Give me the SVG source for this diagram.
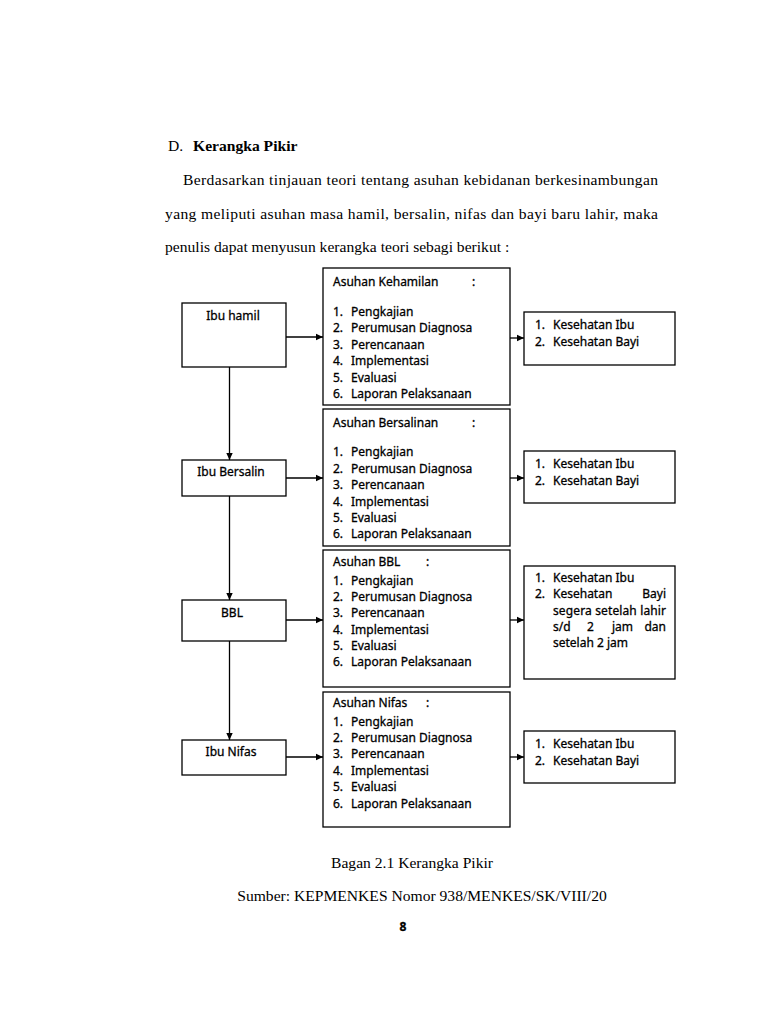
<svg xmlns="http://www.w3.org/2000/svg" width="768" height="1024" viewBox="0 0 768 1024">
<style>
.box{fill:#fff;stroke:#000;stroke-width:1.3}
.t{font-family:"Noto Sans","Open Sans",sans-serif;font-size:12px;fill:#000;stroke:#000;stroke-width:0.3}
.serif{font-family:"Liberation Serif","Times New Roman",serif;font-size:15.6px;fill:#000}
.con{stroke:#000;stroke-width:1.3;fill:none;marker-end:url(#ah)}
</style>
<defs>
<marker id="ah" markerWidth="8" markerHeight="8" refX="7" refY="4" orient="auto" markerUnits="userSpaceOnUse">
<path d="M0,0.8 L7,4 L0,7.2 Z" fill="#000"/>
</marker>
</defs>
<rect width="768" height="1024" fill="#fff"/>

<g id="header">
<text class="serif" x="168" y="151">D.</text>
<text class="serif" x="193" y="151" font-weight="bold">Kerangka Pikir</text>
<text class="serif" x="183" y="185" textLength="475" lengthAdjust="spacing">Berdasarkan tinjauan teori tentang asuhan kebidanan berkesinambungan</text>
<text class="serif" x="165" y="219" textLength="493" lengthAdjust="spacing">yang meliputi asuhan masa hamil, bersalin, nifas dan bayi baru lahir, maka</text>
<text class="serif" x="165" y="252">penulis dapat menyusun kerangka teori sebagi berikut :</text>
</g>

<g id="connectors">
<line class="con" x1="229.5" y1="367" x2="229.5" y2="460"/>
<line class="con" x1="229.5" y1="496" x2="229.5" y2="600"/>
<line class="con" x1="229.5" y1="641" x2="229.5" y2="740"/>
<line class="con" x1="286" y1="337" x2="323" y2="337"/>
<line class="con" x1="286" y1="478" x2="323" y2="478"/>
<line class="con" x1="286" y1="620" x2="323" y2="620"/>
<line class="con" x1="286" y1="757" x2="323" y2="757"/>
<line class="con" x1="510" y1="338" x2="524" y2="338"/>
<line class="con" x1="510" y1="478" x2="524" y2="478"/>
<line class="con" x1="510" y1="620" x2="524" y2="620"/>
<line class="con" x1="510" y1="757" x2="524" y2="757"/>
</g>

<g id="ibu-hamil">
<rect class="box" x="182" y="303" width="104" height="64"/>
<text class="t" x="233" y="320" text-anchor="middle">Ibu hamil</text>
</g>
<g id="ibu-bersalin">
<rect class="box" x="182" y="460" width="104" height="36"/>
<text class="t" x="231" y="476" text-anchor="middle">Ibu Bersalin</text>
</g>
<g id="bbl">
<rect class="box" x="182" y="600" width="104" height="41"/>
<text class="t" x="232" y="617" text-anchor="middle">BBL</text>
</g>
<g id="ibu-nifas">
<rect class="box" x="182" y="740" width="104" height="35"/>
<text class="t" x="231" y="756" text-anchor="middle">Ibu Nifas</text>
</g>

<g id="asuhan-kehamilan">
<rect class="box" x="323" y="268" width="187" height="137"/>
<text class="t" x="333" y="286">Asuhan Kehamilan</text>
<text class="t" x="472" y="286">:</text>
<text class="t" x="333" y="316">1.</text><text class="t" x="351" y="316">Pengkajian</text>
<text class="t" x="333" y="332">2.</text><text class="t" x="351" y="332">Perumusan Diagnosa</text>
<text class="t" x="333" y="349">3.</text><text class="t" x="351" y="349">Perencanaan</text>
<text class="t" x="333" y="365">4.</text><text class="t" x="351" y="365">Implementasi</text>
<text class="t" x="333" y="382">5.</text><text class="t" x="351" y="382">Evaluasi</text>
<text class="t" x="333" y="398">6.</text><text class="t" x="351" y="398">Laporan Pelaksanaan</text>
</g>

<g id="asuhan-bersalinan">
<rect class="box" x="323" y="409" width="187" height="137"/>
<text class="t" x="333" y="427">Asuhan Bersalinan</text>
<text class="t" x="472" y="427">:</text>
<text class="t" x="333" y="456">1.</text><text class="t" x="351" y="456">Pengkajian</text>
<text class="t" x="333" y="473">2.</text><text class="t" x="351" y="473">Perumusan Diagnosa</text>
<text class="t" x="333" y="489">3.</text><text class="t" x="351" y="489">Perencanaan</text>
<text class="t" x="333" y="506">4.</text><text class="t" x="351" y="506">Implementasi</text>
<text class="t" x="333" y="522">5.</text><text class="t" x="351" y="522">Evaluasi</text>
<text class="t" x="333" y="538">6.</text><text class="t" x="351" y="538">Laporan Pelaksanaan</text>
</g>

<g id="asuhan-bbl">
<rect class="box" x="323" y="550" width="187" height="137"/>
<text class="t" x="333" y="566">Asuhan BBL</text>
<text class="t" x="426" y="566">:</text>
<text class="t" x="333" y="585">1.</text><text class="t" x="351" y="585">Pengkajian</text>
<text class="t" x="333" y="601">2.</text><text class="t" x="351" y="601">Perumusan Diagnosa</text>
<text class="t" x="333" y="617">3.</text><text class="t" x="351" y="617">Perencanaan</text>
<text class="t" x="333" y="634">4.</text><text class="t" x="351" y="634">Implementasi</text>
<text class="t" x="333" y="650">5.</text><text class="t" x="351" y="650">Evaluasi</text>
<text class="t" x="333" y="666">6.</text><text class="t" x="351" y="666">Laporan Pelaksanaan</text>
</g>

<g id="asuhan-nifas">
<rect class="box" x="323" y="692" width="187" height="135"/>
<text class="t" x="333" y="707">Asuhan Nifas</text>
<text class="t" x="426" y="707">:</text>
<text class="t" x="333" y="726">1.</text><text class="t" x="351" y="726">Pengkajian</text>
<text class="t" x="333" y="742">2.</text><text class="t" x="351" y="742">Perumusan Diagnosa</text>
<text class="t" x="333" y="758">3.</text><text class="t" x="351" y="758">Perencanaan</text>
<text class="t" x="333" y="775">4.</text><text class="t" x="351" y="775">Implementasi</text>
<text class="t" x="333" y="791">5.</text><text class="t" x="351" y="791">Evaluasi</text>
<text class="t" x="333" y="808">6.</text><text class="t" x="351" y="808">Laporan Pelaksanaan</text>
</g>

<g id="hasil-1">
<rect class="box" x="524" y="312" width="151" height="53"/>
<text class="t" x="535" y="329">1.</text><text class="t" x="553" y="329">Kesehatan Ibu</text>
<text class="t" x="535" y="346">2.</text><text class="t" x="553" y="346">Kesehatan Bayi</text>
</g>
<g id="hasil-2">
<rect class="box" x="524" y="451" width="151" height="52"/>
<text class="t" x="535" y="468">1.</text><text class="t" x="553" y="468">Kesehatan Ibu</text>
<text class="t" x="535" y="485">2.</text><text class="t" x="553" y="485">Kesehatan Bayi</text>
</g>
<g id="hasil-3">
<rect class="box" x="524" y="566" width="151" height="113"/>
<text class="t" x="535" y="582">1.</text><text class="t" x="553" y="582">Kesehatan Ibu</text>
<text class="t" x="535" y="598">2.</text><text class="t" x="553" y="598">Kesehatan</text><text class="t" x="666" y="598" text-anchor="end">Bayi</text>
<text class="t" x="553" y="615" textLength="113" lengthAdjust="spacing">segera setelah lahir</text>
<text class="t" x="553" y="631">s/d</text><text class="t" x="587" y="631">2</text><text class="t" x="612" y="631">jam</text><text class="t" x="666" y="631" text-anchor="end">dan</text>
<text class="t" x="553" y="647">setelah 2 jam</text>
</g>
<g id="hasil-4">
<rect class="box" x="524" y="731" width="151" height="52"/>
<text class="t" x="535" y="748">1.</text><text class="t" x="553" y="748">Kesehatan Ibu</text>
<text class="t" x="535" y="765">2.</text><text class="t" x="553" y="765">Kesehatan Bayi</text>
</g>

<g id="footer">
<text class="serif" x="412" y="868" text-anchor="middle">Bagan 2.1 Kerangka Pikir</text>
<text class="serif" x="422" y="901" text-anchor="middle">Sumber: KEPMENKES Nomor 938/MENKES/SK/VIII/20</text>
<text class="t" x="403" y="931" text-anchor="middle" font-weight="bold" font-size="12">8</text>
</g>
</svg>
